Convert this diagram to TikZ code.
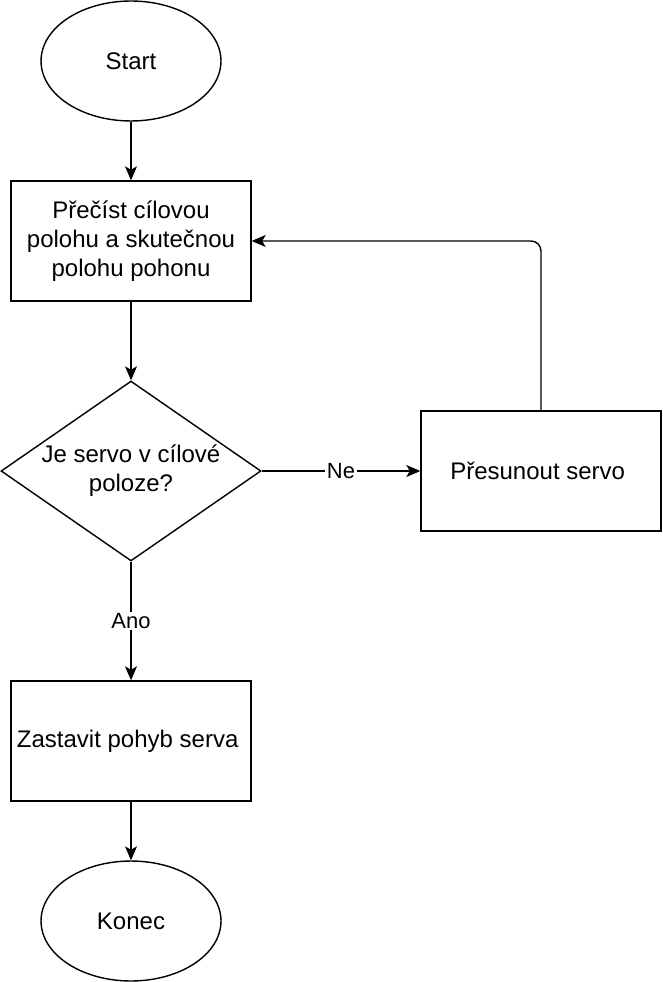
\documentclass[tikz,border=0pt]{standalone}
\usepackage{fontspec}
\setmainfont{Liberation Sans}
\usetikzlibrary{shapes.geometric,arrows.meta,positioning}
\tikzset{
  box/.style={rectangle,draw,line width=0.8pt,minimum width=4.8cm,minimum height=2.4cm,align=center,inner sep=0pt},
  term/.style={ellipse,draw,line width=0.8pt,minimum width=3.6cm,minimum height=2.4cm,inner sep=0pt},
  decide/.style={diamond,draw,line width=0.8pt,minimum width=5.2cm,minimum height=3.6cm,inner sep=0pt},
  flow/.style={draw,line width=0.8pt,-{Stealth[length=0.28cm,width=0.24cm,inset=0.07cm]}},
  tag/.style={fill=white,inner sep=1pt,font=\fontsize{12.5pt}{15pt}\selectfont}
}
\begin{document}
\begin{tikzpicture}[x=0.02cm,y=-0.02cm,font=\fontsize{13.66pt}{16.39pt}\selectfont]
  \useasboundingbox (0,0) rectangle (662,982);
  \node[term] (start) at (131,61) {Start};
  \node[box] (read) at (131,241) {Přečíst cílovou\\polohu a skutečnou\\polohu pohonu};
  \node[decide] (check) at (131,471) {\makebox[0pt]{\begin{tabular}{@{}c@{}}Je servo v cílové\\poloze?\end{tabular}}};
  \node[box] (move) at (541,471) {Přesunout servo\ };
  \node[box] (stop) at (131,741) {Zastavit pohyb serva\ };
  \node[term] (end) at (131,921) {Konec};
  \draw[flow] (start) -- (read);
  \draw[flow] (read) -- (check);
  \draw[flow] (check) -- node[tag] {Ne} (move);
  \draw[flow] (check) -- node[tag] {Ano} (stop);
  \draw[flow] (stop) -- (end);
  % back to reading
  \draw[flow,rounded corners=0.2cm] (move.north) |- (read.east);
\end{tikzpicture}
\end{document}
